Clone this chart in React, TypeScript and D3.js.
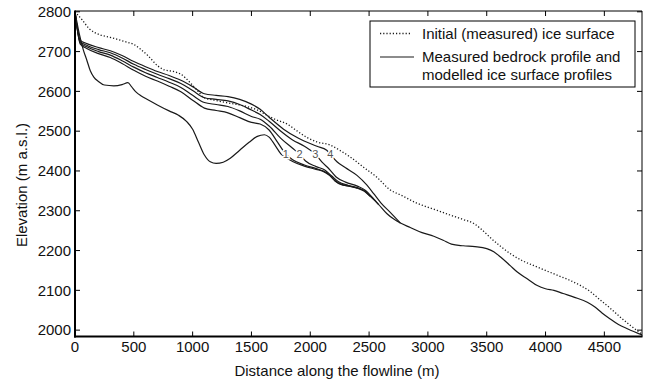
import React from "react";
import * as d3 from "d3";

// ---------- data ----------
const bedrockDist = [0, 40, 70, 100, 130, 160, 200, 250, 330, 400, 450, 480, 520, 560, 620, 700, 800, 880, 950, 1000, 1050, 1100, 1150, 1200, 1260, 1320, 1400, 1480, 1550, 1610, 1650, 1700, 1750, 1800, 1850, 1950, 2050, 2110, 2160, 2210, 2260, 2330, 2400, 2460, 2510, 2580, 2650, 2710, 2766, 2850, 2950, 3050, 3130, 3200, 3300, 3400, 3500, 3560, 3620, 3700, 3760, 3850, 3930, 4000, 4071, 4150, 4241, 4355, 4420, 4480, 4550, 4620, 4700, 4820];
const bedrockElev = [2800, 2740, 2705, 2679, 2652, 2636, 2625, 2616, 2614, 2617, 2622, 2612, 2598, 2589, 2579, 2566, 2551, 2540, 2524, 2505, 2472, 2440, 2423, 2419, 2422, 2432, 2452, 2472, 2487, 2491, 2485, 2465, 2443, 2432, 2424, 2412, 2404, 2399, 2390, 2375, 2366, 2362, 2357, 2349, 2336, 2316, 2293, 2279, 2269, 2258, 2245, 2236, 2226, 2216, 2212, 2210, 2205, 2197, 2183, 2162, 2146, 2128, 2112, 2104, 2100, 2092, 2083, 2070, 2058, 2043, 2028, 2014, 2003, 1988];

const initialDist = [0, 60, 120, 213, 298, 425, 500, 553, 620, 700, 760, 836, 900, 979, 1050, 1092, 1200, 1319, 1461, 1560, 1631, 1700, 1802, 1900, 1972, 2057, 2170, 2250, 2340, 2450, 2567, 2681, 2766, 2900, 3078, 3191, 3300, 3390, 3460, 3532, 3620, 3702, 3800, 3901, 4000, 4099, 4200, 4298, 4380, 4468, 4550, 4638, 4720, 4820];
const initialElev = [2800, 2780, 2758, 2742, 2736, 2725, 2718, 2707, 2690, 2665, 2654, 2650, 2643, 2622, 2599, 2585, 2577, 2570, 2562, 2552, 2540, 2530, 2518, 2498, 2484, 2473, 2465, 2452, 2435, 2410, 2384, 2352, 2340, 2320, 2301, 2289, 2278, 2268, 2252, 2232, 2210, 2192, 2175, 2162, 2150, 2138, 2126, 2112, 2097, 2075, 2055, 2032, 2012, 1990];

const model1Dist = [0, 45, 100, 200, 300, 400, 500, 600, 700, 800, 900, 1000, 1100, 1200, 1300, 1400, 1500, 1574, 1650, 1720, 1793, 1850, 1950, 2050, 2110, 2160, 2210, 2260, 2330, 2400];
const model1Elev = [2800, 2719, 2708, 2695, 2685, 2670, 2653, 2638, 2626, 2613, 2599, 2578, 2558, 2552, 2546, 2534, 2522, 2518, 2503, 2473, 2442, 2428, 2415, 2406, 2400, 2391, 2376, 2367, 2362, 2357];

const model2Dist = [0, 45, 100, 200, 300, 400, 500, 600, 700, 800, 900, 1000, 1100, 1200, 1300, 1400, 1500, 1574, 1650, 1750, 1850, 1909, 1960, 2050, 2120, 2180, 2240, 2320, 2400, 2460, 2510];
const model2Elev = [2800, 2722, 2712, 2700, 2691, 2677, 2661, 2647, 2635, 2623, 2610, 2590, 2572, 2567, 2562, 2551, 2537, 2530, 2513, 2482, 2457, 2442, 2425, 2411, 2403, 2388, 2373, 2364, 2358, 2350, 2336];

const model3Dist = [0, 45, 100, 200, 300, 400, 500, 600, 700, 800, 900, 1000, 1100, 1200, 1300, 1400, 1500, 1574, 1650, 1750, 1850, 1950, 2043, 2100, 2160, 2220, 2300, 2400, 2470, 2530, 2580];
const model3Elev = [2800, 2725, 2716, 2705, 2697, 2684, 2668, 2655, 2643, 2632, 2620, 2602, 2584, 2580, 2576, 2567, 2553, 2542, 2525, 2500, 2478, 2462, 2442, 2422, 2405, 2385, 2372, 2362, 2351, 2333, 2316];

const model4Dist = [0, 45, 100, 200, 300, 400, 500, 600, 700, 800, 900, 1000, 1100, 1200, 1300, 1400, 1500, 1574, 1650, 1773, 1900, 2057, 2140, 2170, 2227, 2300, 2397, 2480, 2539, 2600, 2680, 2766];
const model4Elev = [2800, 2728, 2720, 2710, 2702, 2690, 2675, 2662, 2650, 2640, 2628, 2612, 2594, 2590, 2587, 2580, 2568, 2555, 2535, 2505, 2482, 2462, 2452, 2442, 2423, 2408, 2389, 2365, 2343, 2320, 2296, 2269];

const profileLabels = ["1", "2", "3", "4"];
const labelDist = [1793, 1909, 2043, 2170];
const labelElev = [2442, 2442, 2442, 2442];

const xTicks = [0, 500, 1000, 1500, 2000, 2500, 3000, 3500, 4000, 4500];
const yTicks = [2000, 2100, 2200, 2300, 2400, 2500, 2600, 2700, 2800];

const legendItems = ["Initial (measured) ice surface", "Measured bedrock profile and", "modelled ice surface profiles"];
const xTitle = "Distance along the flowline (m)";
const yTitle = "Elevation (m a.s.l.)";

// ---------- layout ----------
const W = 649;
const H = 384;
const left = 75;
const right = 642;
const top = 11;
const bottom = 336.5;
const FONT = "'Liberation Sans', Arial, Helvetica, sans-serif";
const FS = 15;

export default function App() {
  const x = d3.scaleLinear().domain([0, 4820]).range([left, right]);
  const y = d3.scaleLinear().domain([1984, 2802]).range([bottom, top]);
  const line = d3
    .line<[number, number]>()
    .x((d) => x(d[0]))
    .y((d) => y(d[1]))
    .curve(d3.curveMonotoneX);
  const zip = (a: number[], b: number[]) => a.map((v, i) => [v, b[i]] as [number, number]);

  const solids = [
    zip(bedrockDist, bedrockElev),
    zip(model1Dist, model1Elev),
    zip(model2Dist, model2Elev),
    zip(model3Dist, model3Elev),
    zip(model4Dist, model4Elev),
  ];
  const initial = zip(initialDist, initialElev);
  const ink = "#1a1a1a";

  const lgX = 370;
  const lgW = 265;

  return (
    <svg width={W} height={H} style={{ position: "absolute", left: 0, top: 0, background: "#fff" }} fontFamily={FONT}>
      <defs>
        <clipPath id="plot">
          <rect x={left} y={top} width={right - left} height={bottom - top} />
        </clipPath>
      </defs>
      <g clipPath="url(#plot)">
        <path d={line(initial) || ""} fill="none" stroke={ink} strokeWidth={1.3} strokeDasharray="1.2,2" />
        {solids.map((s, i) => (
          <path key={i} d={line(s) || ""} fill="none" stroke={ink} strokeWidth={1.2} />
        ))}
        {profileLabels.map((t, i) => (
          <text
            key={t}
            x={x(labelDist[i])}
            y={y(labelElev[i])}
            fontSize={11}
            textAnchor="middle"
            dominantBaseline="central"
            fill="#555"
            stroke="#fff"
            strokeWidth={3}
            paintOrder="stroke"
          >
            {t}
          </text>
        ))}
      </g>

      {/* frame */}
      <line x1={left} x2={right} y1={top} y2={top} stroke="#000" strokeWidth={1} />
      <line x1={right} x2={right} y1={top} y2={bottom} stroke="#000" strokeWidth={1} />
      <line x1={left} x2={left} y1={top - 0.5} y2={bottom + 1} stroke="#000" strokeWidth={2} />
      <line x1={left - 1} x2={right + 0.5} y1={bottom} y2={bottom} stroke="#000" strokeWidth={2} />

      {/* x ticks */}
      {xTicks.map((t) => (
        <g key={t}>
          <line x1={x(t)} x2={x(t)} y1={bottom} y2={bottom - 5} stroke="#000" />
          <line x1={x(t)} x2={x(t)} y1={top} y2={top + 5} stroke="#000" />
          <text x={x(t)} y={bottom + 15} fontSize={FS} textAnchor="middle" fill="#111">
            {t}
          </text>
        </g>
      ))}
      {/* y ticks */}
      {yTicks.map((t) => (
        <g key={t}>
          <line x1={left} x2={left + 5} y1={y(t)} y2={y(t)} stroke="#000" />
          <line x1={right} x2={right - 5} y1={y(t)} y2={y(t)} stroke="#000" />
          <text x={left - 4} y={y(t) + 5.3} fontSize={FS} textAnchor="end" fill="#111">
            {t}
          </text>
        </g>
      ))}

      {/* axis titles */}
      <text x={337} y={376} fontSize={FS} textAnchor="middle" fill="#111">
        {xTitle}
      </text>
      <text transform={`translate(27,185) rotate(-90)`} fontSize={FS} textAnchor="middle" fill="#111">
        {yTitle}
      </text>

      {/* legend */}
      <rect x={lgX} y={21} width={lgW} height={66} fill="#fff" stroke="#000" strokeWidth={1} />
      <line x1={lgX + 10} x2={lgX + 42} y1={33.5} y2={33.5} stroke={ink} strokeWidth={1.3} strokeDasharray="1.2,2" />
      <line x1={lgX + 10} x2={lgX + 44} y1={57} y2={57} stroke={ink} strokeWidth={1.2} />
      <text x={lgX + 52} y={38.5} fontSize={FS} fill="#111">{legendItems[0]}</text>
      <text x={lgX + 52} y={62} fontSize={FS} fill="#111">{legendItems[1]}</text>
      <text x={lgX + 52} y={80} fontSize={FS} fill="#111">{legendItems[2]}</text>
    </svg>
  );
}
